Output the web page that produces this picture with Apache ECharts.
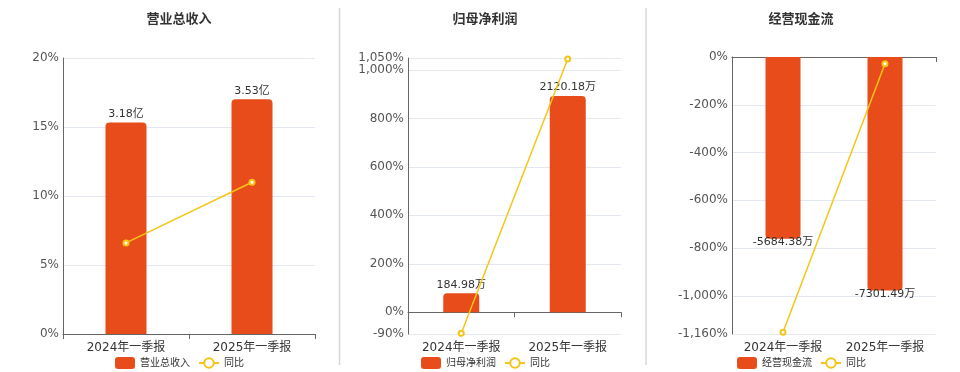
<!DOCTYPE html>
<html><head><meta charset="utf-8">
<script src="https://cdn.jsdelivr.net/npm/echarts@6/dist/echarts.min.js"></script>
<style>html,body{margin:0;padding:0;background:#fff}#c{width:960px;height:372px}</style>
</head><body><div id="c"></div>
<script>
const categories = ['2024年一季报', '2025年一季报'];
const chartTitles = ['营业总收入', '归母净利润', '经营现金流'];
const revenue = [3.18, 3.53];          // 亿
const revenueYoY = [6.6, 11.0];        // %
const netProfit = [184.98, 2120.18];   // 万
const netProfitYoY = [-87, 1046.17];   // %
const cashFlow = [-5684.38, -7301.49]; // 万
const cashFlowYoY = [-1153, -28.45];   // %
const units = ['亿', '万', '万'];
const yoyName = '同比';
const yoyAxisRange = [[0, 20], [-90, 1050], [-1160, 0]];
const barAxisRange = [[0, 4.15], [-213.8, 2494], [-8661, 0]];

const barData = [revenue, netProfit, cashFlow];
const yoyData = [revenueYoY, netProfitYoY, cashFlowYoY];

const FONT = "'DejaVu Sans', 'Noto Sans CJK SC', sans-serif";
const BAR_COLOR = '#E84C1B';
const LINE_COLOR = '#F5C518';
const grids = [
  {left: 63, top: 58, width: 252, height: 276},
  {left: 408, top: 58, width: 213, height: 276},
  {left: 732, top: 57, width: 204, height: 277}
];
const centers = [174, 480, 796];
const barWidths = [41, 36, 35];

const xAxis = [], yAxis = [], series = [], title = [], legend = [];
for (let i = 0; i < 3; i++) {
  xAxis.push({
    gridIndex: i, type: 'category', data: categories, position: 'bottom',
    axisLine: {show: false, onZero: false}, axisTick: {show: false},
    axisLabel: {color: '#333', fontSize: 12, margin: 8, interval: 0, fontFamily: FONT}
  });
  xAxis.push({
    gridIndex: i, type: 'category', data: categories, position: 'bottom',
    axisLine: {show: true, onZero: true, onZeroAxisIndex: 2 * i, lineStyle: {color: '#666', width: 1}},
    axisTick: {show: true, length: 5, lineStyle: {color: '#666'}},
    axisLabel: {show: false}
  });
  const yo = {
    gridIndex: i, type: 'value', min: yoyAxisRange[i][0], max: yoyAxisRange[i][1], position: 'left',
    axisLine: {show: true, lineStyle: {color: '#666'}}, axisTick: {show: false},
    axisLabel: {color: '#555', fontSize: 12, margin: 4, fontFamily: FONT,
      formatter: v => echarts.format.addCommas(v) + '%'},
    splitLine: {lineStyle: {color: '#E3E8F2'}}
  };
  if (i === 0) yo.interval = 5;
  yAxis.push(yo);
  yAxis.push({gridIndex: i, type: 'value', min: barAxisRange[i][0], max: barAxisRange[i][1], show: false, splitLine: {show: false}});

  const neg = i === 2;
  series.push({
    name: chartTitles[i], type: 'bar', xAxisIndex: 2 * i, yAxisIndex: 2 * i + 1,
    data: barData[i], barWidth: barWidths[i],
    itemStyle: {color: BAR_COLOR, borderRadius: neg ? [0, 0, 4, 4] : [4, 4, 0, 0]},
    label: {show: true, position: neg ? 'bottom' : 'top', distance: neg ? -2 : 3,
      color: '#333', fontSize: 11, fontFamily: FONT,
      formatter: p => p.value.toFixed(2) + units[i]}
  });
  series.push({
    name: yoyName, type: 'line', xAxisIndex: 2 * i, yAxisIndex: 2 * i, data: yoyData[i],
    color: LINE_COLOR, symbol: 'emptyCircle', symbolSize: 5,
    lineStyle: {width: 1.5, color: LINE_COLOR}, itemStyle: {color: LINE_COLOR, borderWidth: 1.5}, z: 5
  });
  title.push({
    text: chartTitles[i], left: centers[i], top: 8, textAlign: 'center',
    textStyle: {fontSize: 13, fontWeight: 'bold', color: '#333', fontFamily: FONT}
  });
  legend.push({
    left: centers[i] - 64, top: 352, itemWidth: 20, itemHeight: 12, itemGap: 8,
    textStyle: {fontSize: 10, color: '#333', fontFamily: FONT},
    data: [{name: chartTitles[i], icon: 'roundRect'}, {name: yoyName}]
  });
}

const chart = echarts.init(document.getElementById('c'));
chart.setOption({
  animation: false,
  textStyle: {fontFamily: FONT},
  title, legend, grid: grids, xAxis, yAxis, series,
  graphic: [
    {type: 'line', shape: {x1: 339.5, y1: 8, x2: 339.5, y2: 365}, style: {stroke: '#D6D6D6', lineWidth: 1.5}},
    {type: 'line', shape: {x1: 646, y1: 8, x2: 646, y2: 365}, style: {stroke: '#D9D9D9', lineWidth: 1.5}}
  ]
});
</script></body></html>
